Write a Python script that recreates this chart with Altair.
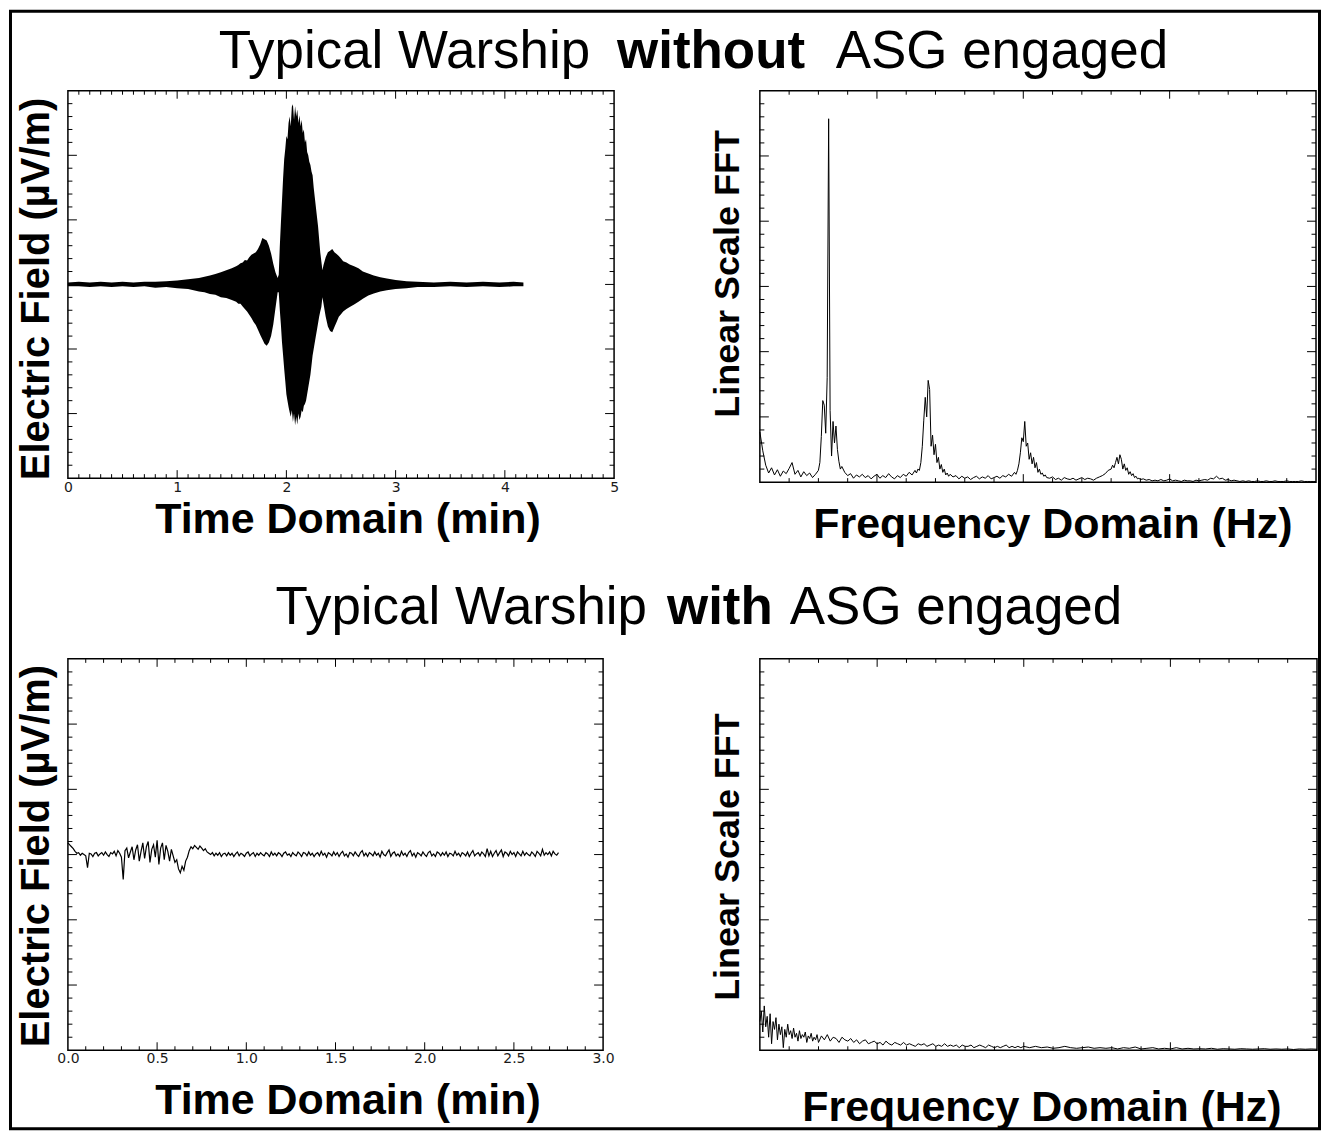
import altair as alt
import pandas as pd

# ---------------- values ----------------
# Top-left: time-domain signal envelope, ship WITHOUT ASG (min, arbitrary field units)
tl_time = [0.00, 0.10, 0.20, 0.30, 0.40, 0.50, 0.60, 0.70, 0.80, 0.90,
           1.00, 1.10, 1.20, 1.25, 1.30, 1.35, 1.40, 1.45, 1.50, 1.54,
           1.56, 1.58, 1.60, 1.62, 1.64, 1.66, 1.68, 1.70, 1.72, 1.74,
           1.76, 1.78, 1.80, 1.82, 1.84, 1.86, 1.88, 1.90, 1.92,
           1.93, 1.94, 1.95, 1.96, 1.97, 1.98, 1.99, 2.00, 2.01, 2.02,
           2.03, 2.04, 2.05, 2.06, 2.07, 2.08, 2.09, 2.10, 2.11, 2.12,
           2.13, 2.14, 2.15, 2.16, 2.17, 2.18, 2.19, 2.20, 2.21, 2.22,
           2.23, 2.24, 2.25, 2.26, 2.27, 2.28, 2.29, 2.30, 2.31, 2.32,
           2.33, 2.34, 2.36, 2.38, 2.40, 2.42, 2.44, 2.46, 2.48, 2.50,
           2.52, 2.55, 2.58, 2.62, 2.66, 2.70, 2.75, 2.80, 2.86, 2.92,
           3.00, 3.10, 3.20, 3.35, 3.50, 3.65, 3.80, 3.95, 4.08, 4.17]
tl_upper = [0.03, 0.04, 0.03, 0.04, 0.03, 0.04, 0.03, 0.04, 0.04, 0.05,
            0.06, 0.08, 0.10, 0.12, 0.14, 0.16, 0.19, 0.22, 0.25, 0.28,
            0.30, 0.33, 0.34, 0.38, 0.37, 0.42, 0.46, 0.48, 0.50, 0.55,
            0.62, 0.72, 0.70, 0.68, 0.60, 0.48, 0.32, 0.19, 0.10,
            0.15, 0.60, 0.96, 1.30, 1.65, 1.94, 2.10, 2.30, 2.25, 2.50,
            2.60, 2.45, 2.75, 2.79, 2.55, 2.76, 2.60, 2.71, 2.50, 2.62,
            2.45, 2.55, 2.35, 2.40, 2.20, 2.25, 2.05, 2.00, 1.90, 1.85,
            1.75, 1.69, 1.50, 1.35, 1.20, 1.05, 0.90, 0.70, 0.50, 0.36,
            0.22, 0.30, 0.42, 0.50, 0.52, 0.55, 0.50, 0.47, 0.44, 0.40,
            0.36, 0.34, 0.31, 0.28, 0.25, 0.20, 0.17, 0.14, 0.11, 0.09,
            0.07, 0.05, 0.04, 0.03, 0.04, 0.03, 0.04, 0.03, 0.04, 0.03]
tl_lower = [-0.03, -0.03, -0.04, -0.03, -0.04, -0.03, -0.04, -0.03, -0.05, -0.04,
            -0.06, -0.07, -0.11, -0.12, -0.15, -0.16, -0.20, -0.21, -0.24, -0.27,
            -0.30, -0.30, -0.34, -0.38, -0.42, -0.47, -0.52, -0.58, -0.63, -0.70,
            -0.78, -0.85, -0.92, -0.95, -0.90, -0.80, -0.62, -0.37, -0.12,
            -0.12, -0.40, -0.63, -0.90, -1.10, -1.31, -1.50, -1.70, -1.80, -1.90,
            -1.98, -2.05, -1.95, -2.13, -2.00, -2.18, -2.05, -2.17, -2.00, -2.10,
            -2.05, -1.95, -1.98, -1.88, -1.85, -1.80, -1.70, -1.60, -1.50, -1.40,
            -1.25, -1.10, -1.00, -0.90, -0.80, -0.70, -0.60, -0.50, -0.42, -0.35,
            -0.20, -0.30, -0.50, -0.65, -0.72, -0.74, -0.66, -0.58, -0.50, -0.46,
            -0.42, -0.38, -0.35, -0.31, -0.27, -0.22, -0.17, -0.14, -0.11, -0.09,
            -0.07, -0.06, -0.04, -0.04, -0.03, -0.04, -0.03, -0.04, -0.03, -0.03]

# Top-right: FFT amplitude, WITHOUT ASG (blocks: first frequency, spacing, amplitudes)
tr_blocks = [
    (0.20, 0.02, [0.77, 0.48, 0.26, 0.14, 0.22, 0.11, 0.19, 0.09, 0.17, 0.13,
                  0.21, 0.30, 0.12, 0.18, 0.08, 0.16, 0.10, 0.14, 0.07, 0.12]),
    (0.60, 0.01, [0.18, 0.30, 0.70, 1.25, 1.18, 0.75, 1.60, 5.57, 1.10, 0.40,
                  0.93, 0.60, 0.86, 0.50, 0.32, 0.20, 0.24]),
    (0.78, 0.02, [0.15, 0.10, 0.13, 0.06, 0.11, 0.08, 0.12, 0.07, 0.10, 0.05,
                  0.09, 0.12, 0.06, 0.10, 0.07, 0.13, 0.08, 0.05, 0.10, 0.07,
                  0.12, 0.09, 0.15, 0.11, 0.18]),
    (1.27, 0.01, [0.14, 0.20, 0.18, 0.30, 0.55, 0.95, 1.30, 1.00, 1.56, 1.42,
                  0.55, 0.72, 0.42, 0.58, 0.30, 0.38, 0.20, 0.27, 0.15, 0.20,
                  0.11, 0.14, 0.09, 0.12]),
    (1.52, 0.02, [0.08, 0.10, 0.05, 0.09, 0.06, 0.08, 0.04, 0.07, 0.09, 0.05,
                  0.08, 0.06, 0.10, 0.05, 0.07, 0.09, 0.06, 0.10, 0.08, 0.12,
                  0.09, 0.15]),
    (1.95, 0.01, [0.12, 0.18, 0.28, 0.45, 0.68, 0.62, 0.93, 0.55, 0.60, 0.35,
                  0.45, 0.28, 0.38, 0.22, 0.30, 0.15, 0.20, 0.12, 0.14, 0.09,
                  0.11, 0.07]),
    (2.18, 0.02, [0.06, 0.08, 0.04, 0.06, 0.03, 0.07, 0.05, 0.04, 0.06, 0.03,
                  0.05, 0.07, 0.04, 0.06, 0.05, 0.03, 0.06, 0.08, 0.10, 0.13,
                  0.18]),
    (2.60, 0.01, [0.20, 0.26, 0.22, 0.30, 0.38, 0.28, 0.42, 0.35, 0.20, 0.28,
                  0.18, 0.22, 0.12, 0.16, 0.10, 0.13, 0.07, 0.09, 0.05, 0.06,
                  0.04]),
    (2.82, 0.02, [0.05, 0.03, 0.04, 0.02, 0.03, 0.02, 0.04, 0.02, 0.03, 0.05,
                  0.02, 0.03, 0.02, 0.01, 0.03, 0.02, 0.02, 0.01, 0.03, 0.02,
                  0.03, 0.04, 0.03, 0.06, 0.05, 0.09, 0.05, 0.06, 0.03, 0.04,
                  0.02, 0.03, 0.02, 0.01, 0.02, 0.01, 0.02, 0.01, 0.01, 0.02,
                  0.01, 0.01, 0.02, 0.01, 0.01, 0.02, 0.01, 0.01, 0.01, 0.02,
                  0.01, 0.01, 0.01, 0.01, 0.02, 0.01, 0.01, 0.01, 0.01, 0.01]),
]

# Bottom-left: time-domain signal, ship WITH ASG (every 0.01 min from 0.00)
bl_start, bl_step = 0.00, 0.01
bl_field = [0.18, 0.15, 0.12, 0.09, 0.05, 0.02, 0.03, -0.01, 0.02, 0.00,
            -0.02, -0.20, 0.02, 0.01, -0.03, 0.02, 0.03, -0.02, 0.01, 0.03,
            -0.01, 0.04, 0.00, -0.03, 0.03, 0.01, 0.05, -0.02, 0.06, 0.02,
            -0.04, -0.38, 0.06, 0.10, -0.05, 0.04, 0.12, -0.08, 0.07, 0.15,
            -0.10, 0.05, 0.18, -0.06, 0.12, 0.20, -0.12, 0.08, 0.15, -0.04,
            0.22, -0.15, 0.10, 0.18, -0.08, 0.14, 0.05, -0.10, 0.08, -0.02,
            -0.12, -0.08, -0.22, -0.28, -0.18, -0.24, -0.10, -0.04, 0.06, 0.12,
            0.09, 0.14, 0.11, 0.08, 0.13, 0.10, 0.06, 0.09, 0.04, 0.02,
            0.00, 0.03, -0.02, 0.02, -0.01, 0.03, -0.03, 0.01, 0.02, -0.02,
            0.03, -0.01, 0.02, -0.03, 0.01, 0.04, -0.02, 0.02, 0.00, -0.03,
            0.02, 0.04, -0.02, 0.01, 0.03, -0.03, 0.02, -0.01, 0.03, 0.00,
            -0.02, 0.03, 0.01, -0.03, 0.04, -0.01, 0.02, -0.02, 0.03, 0.01,
            -0.03, 0.02, 0.04, -0.01, 0.01, -0.03, 0.03, 0.00, -0.02, 0.04,
            0.01, -0.03, 0.03, 0.02, -0.02, 0.04, -0.01, 0.02, -0.03, 0.01,
            0.03, -0.02, 0.05, -0.01, 0.02, -0.04, 0.03, 0.01, -0.02, 0.04,
            -0.01, 0.03, -0.03, 0.02, 0.05, -0.02, 0.01, -0.04, 0.03, 0.02,
            -0.02, 0.04, 0.00, -0.03, 0.03, 0.06, -0.02, 0.02, -0.03, 0.03,
            0.01, -0.02, 0.04, -0.01, 0.02, -0.04, 0.05, 0.00, -0.02, 0.03,
            0.07, -0.03, 0.02, 0.04, -0.02, 0.01, -0.03, 0.05, -0.01, 0.02,
            -0.03, 0.03, 0.06, -0.02, 0.02, -0.04, 0.03, 0.01, -0.02, 0.04,
            0.00, -0.03, 0.03, 0.05, -0.02, 0.01, -0.03, 0.04, 0.02, -0.02,
            0.03, -0.01, 0.04, -0.03, 0.02, 0.01, -0.02, 0.05, -0.01, 0.02,
            -0.03, 0.03, 0.01, -0.02, 0.04, -0.03, 0.02, 0.06, -0.02, 0.01,
            0.03, -0.02, 0.04, 0.01, -0.03, 0.09, -0.02, 0.05, -0.03, 0.02,
            0.06, -0.02, 0.03, 0.07, -0.03, 0.04, 0.02, -0.02, 0.05, 0.00,
            0.03, -0.03, 0.04, 0.01, -0.02, 0.05, -0.01, 0.03, 0.00, -0.02,
            0.04, 0.01, -0.03, 0.05, 0.02, -0.02, 0.08, -0.01, 0.03, 0.00,
            0.04, -0.02, 0.05, 0.01, -0.01, 0.03]

# Bottom-right: FFT amplitude, WITH ASG
br_blocks = [
    (0.20, 0.01, [0.22, 0.30, 0.14, 0.34, 0.18, 0.26, 0.10, 0.28, 0.05, 0.22,
                  0.16, 0.25, 0.08, 0.20, 0.12, 0.18, 0.02, 0.16, 0.10, 0.20,
                  0.12, 0.15, 0.09, 0.17, 0.10, 0.13, 0.07, 0.15, 0.09, 0.12,
                  0.10, 0.14, 0.06, 0.11, 0.09, 0.13, 0.07, 0.10, 0.08, 0.12,
                  0.06]),
    (0.62, 0.02, [0.11, 0.08, 0.12, 0.07, 0.10, 0.09, 0.06, 0.10, 0.08, 0.07,
                  0.09, 0.06, 0.08, 0.05, 0.07, 0.08, 0.05, 0.06, 0.07, 0.05,
                  0.06, 0.04, 0.07, 0.05, 0.04, 0.06, 0.05, 0.04, 0.06, 0.04,
                  0.05, 0.04, 0.03, 0.05, 0.04, 0.05, 0.03, 0.04, 0.05, 0.03,
                  0.04, 0.03, 0.05, 0.03, 0.04, 0.03, 0.04, 0.02, 0.04, 0.03,
                  0.03, 0.04, 0.02, 0.03, 0.04, 0.03, 0.02, 0.04, 0.03, 0.02,
                  0.03, 0.02, 0.03, 0.04, 0.02, 0.03, 0.02, 0.03, 0.02, 0.03]),
    (2.04, 0.04, [0.020, 0.030, 0.020, 0.025, 0.015, 0.020, 0.030, 0.020, 0.015, 0.020,
                  0.025, 0.015, 0.020, 0.015, 0.020, 0.010, 0.020, 0.015, 0.025, 0.010,
                  0.015, 0.020, 0.010, 0.015, 0.010, 0.020, 0.010, 0.015, 0.010, 0.012,
                  0.010, 0.015, 0.008, 0.012, 0.010, 0.008, 0.012, 0.010, 0.008, 0.010,
                  0.012, 0.008, 0.010, 0.008, 0.010, 0.006, 0.010, 0.008, 0.010, 0.008]),
]

# axis tick values and labels
tl_x_labels = [0, 1, 2, 3, 4, 5]
bl_x_labels = [0.0, 0.5, 1.0, 1.5, 2.0, 2.5, 3.0]


def sampled(start, step, values):
    return [round(start + step * i, 3) for i in range(len(values))]


def from_blocks(blocks):
    f, a = [], []
    for start, step, vals in blocks:
        f += sampled(start, step, vals)
        a += vals
    return f, a


tr_freq, tr_amp = from_blocks(tr_blocks)
br_freq, br_amp = from_blocks(br_blocks)
bl_time = sampled(bl_start, bl_step, bl_field)

df_tl = pd.DataFrame({"t": tl_time, "up": tl_upper, "lo": tl_lower})
df_tr = pd.DataFrame({"f": tr_freq, "amp": tr_amp})
df_bl = pd.DataFrame({"t": bl_time, "E": bl_field})
df_br = pd.DataFrame({"f": br_freq, "amp": br_amp})


def steps(lo, hi, step, skip_every):
    n = int(round((hi - lo) / step))
    return [round(lo + step * i, 3) for i in range(1, n) if i % skip_every]


# ---------------- styling ----------------
FONT = "Liberation Sans"
INK = "#000000"
one = pd.DataFrame({"k": [0]})

W_TL, H_TL = 547, 388
W_TR, H_TR = 557, 392
W_BL, H_BL = 536, 392
W_BR, H_BR = 558, 392


def tick_layers(xf, xs, xax, x_major, x_minor, yf, ys, yax, y_major, y_minor, W, H):
    out = []
    for vals, L in ((x_major, 8), (x_minor, 4)):
        base = alt.Chart(pd.DataFrame({xf: vals}))
        xe = alt.X(f"{xf}:Q", scale=xs, axis=xax)
        out.append(base.mark_rule(color=INK, strokeWidth=1).encode(
            x=xe, y=alt.value(H), y2=alt.value(H - L)))
        out.append(base.mark_rule(color=INK, strokeWidth=1).encode(
            x=xe, y=alt.value(0), y2=alt.value(L)))
    for vals, L in ((y_major, 9), (y_minor, 4.5)):
        base = alt.Chart(pd.DataFrame({yf: vals}))
        ye = alt.Y(f"{yf}:Q", scale=ys, axis=yax)
        out.append(base.mark_rule(color=INK, strokeWidth=1).encode(
            y=ye, x=alt.value(0), x2=alt.value(L)))
        out.append(base.mark_rule(color=INK, strokeWidth=1).encode(
            y=ye, x=alt.value(W), x2=alt.value(W - L)))
    return out


def title_piece(text, x, y, bold=False):
    return alt.Chart(one).mark_text(
        text=text, align="left", baseline="alphabetic", font=FONT,
        fontSize=53, fontWeight="bold" if bold else "normal", color=INK
    ).encode(x=alt.value(x), y=alt.value(y))


def x_axis(title, tx, ty, values=None, fmt=None, pad=2):
    kw = dict(ticks=False, tickSize=0, domain=False, grid=False,
              title=title, titleFont=FONT, titleFontSize=43, titleFontWeight="bold",
              titleColor=INK, titleX=tx, titleY=ty, titleAlign="center",
              titleBaseline="alphabetic")
    if values is None:
        kw["labels"] = False
    else:
        kw.update(values=values, format=fmt, labelFont="DejaVu Sans", labelFontSize=14,
                  labelColor="#1a1a1a", labelPadding=pad, labelFlush=False,
                  labelOverlap=False)
    return alt.Axis(**kw)


def y_axis(title, size, tx, ty):
    return alt.Axis(labels=False, ticks=False, tickSize=0, domain=False, grid=False,
                    title=title, titleFont=FONT, titleFontSize=size,
                    titleFontWeight="bold", titleColor=INK, titleAngle=270,
                    titleX=tx, titleY=ty, titleAlign="center",
                    titleBaseline="alphabetic")


# ---------------- top-left ----------------
sx_tl = alt.Scale(domain=[0, 5], nice=False, zero=False)
sy_tl = alt.Scale(domain=[-3, 3], nice=False, zero=False)
ax_tl_x = x_axis("Time Domain (min)", 280, 54, tl_x_labels, "d", pad=2)
ax_tl_y = y_axis("Electric Field (µV/m)", 40, -19, 198)
tl_area = alt.Chart(df_tl).mark_area(color=INK, opacity=1).encode(
    x=alt.X("t:Q", scale=sx_tl, axis=ax_tl_x),
    y=alt.Y("up:Q", scale=sy_tl, axis=ax_tl_y),
    y2="lo:Q",
)
# outer frame of the whole figure (drawn from the first panel, outside its plot area)
frame = alt.Chart(one).mark_rect(fillOpacity=0, stroke=INK, strokeWidth=3).encode(
    x=alt.value(-57.5), x2=alt.value(1253.5), y=alt.value(-79.5), y2=alt.value(1039.5))
tl = alt.layer(
    tl_area,
    *tick_layers("t", sx_tl, ax_tl_x, tl_x_labels[1:-1], steps(0, 5, 0.1, 10),
                 "up", sy_tl, ax_tl_y, [-2, -1, 0, 1, 2], steps(-3, 3, 0.2, 5), W_TL, H_TL),
    title_piece("Typical Warship", 151, -23),
    title_piece("without", 550, -23, bold=True),
    title_piece("ASG engaged", 769, -23),
    frame,
).properties(width=W_TL, height=H_TL)

# ---------------- top-right ----------------
sx_f = alt.Scale(domain=[0.2, 4.0], nice=False, zero=False)
sy_tr = alt.Scale(domain=[0, 6], nice=False, zero=False)
f_minor = [v for v in steps(0.2, 4.0, 0.2, 100) if v not in (1.0, 2.0, 3.0)]
ax_tr_x = x_axis("Frequency Domain (Hz)", 293, 55)
ax_tr_y = y_axis("Linear Scale FFT", 36, -21, 183)
tr_line = alt.Chart(df_tr).mark_line(color=INK, strokeWidth=1).encode(
    x=alt.X("f:Q", scale=sx_f, axis=ax_tr_x),
    y=alt.Y("amp:Q", scale=sy_tr, axis=ax_tr_y),
)
tr = alt.layer(
    tr_line,
    *tick_layers("f", sx_f, ax_tr_x, [1, 2, 3], f_minor,
                 "amp", sy_tr, ax_tr_y, [1, 2, 3, 4, 5], steps(0, 6, 0.2, 5), W_TR, H_TR),
).properties(width=W_TR, height=H_TR)

# ---------------- bottom-left ----------------
sx_bl = alt.Scale(domain=[0, 3], nice=False, zero=False)
sy_bl = alt.Scale(domain=[-3, 3], nice=False, zero=False)
ax_bl_x = x_axis("Time Domain (min)", 280, 63, bl_x_labels, ".1f", pad=1)
ax_bl_y = y_axis("Electric Field (µV/m)", 40, -19, 197)
bl_line = alt.Chart(df_bl).mark_line(color=INK, strokeWidth=1.2).encode(
    x=alt.X("t:Q", scale=sx_bl, axis=ax_bl_x),
    y=alt.Y("E:Q", scale=sy_bl, axis=ax_bl_y),
)
bl = alt.layer(
    bl_line,
    *tick_layers("t", sx_bl, ax_bl_x, bl_x_labels[1:-1], steps(0, 3, 0.1, 5),
                 "E", sy_bl, ax_bl_y, [-2, -1, 0, 1, 2], steps(-3, 3, 0.2, 5), W_BL, H_BL),
    title_piece("Typical Warship", 208, -35),
    title_piece("with", 600, -35, bold=True),
    title_piece("ASG engaged", 723, -35),
).properties(width=W_BL, height=H_BL)

# ---------------- bottom-right ----------------
sy_br = alt.Scale(domain=[0, 3], nice=False, zero=False)
ax_br_x = x_axis("Frequency Domain (Hz)", 282, 70)
ax_br_y = y_axis("Linear Scale FFT", 36, -21, 198)
br_line = alt.Chart(df_br).mark_line(color=INK, strokeWidth=1).encode(
    x=alt.X("f:Q", scale=sx_f, axis=ax_br_x),
    y=alt.Y("amp:Q", scale=sy_br, axis=ax_br_y),
)
br = alt.layer(
    br_line,
    *tick_layers("f", sx_f, ax_br_x, [1, 2, 3], f_minor,
                 "amp", sy_br, ax_br_y, [1, 2], steps(0, 3, 0.1, 10), W_BR, H_BR),
).properties(width=W_BR, height=H_BR)

chart = alt.concat(
    tl, tr, bl, br, columns=2, spacing={"row": 177, "column": 146}, bounds="flush"
).properties(padding=0, background="white").configure_view(
    stroke=INK, strokeWidth=1.5
)

chart.save("out.html", embed_options={"renderer": "svg", "actions": False})
